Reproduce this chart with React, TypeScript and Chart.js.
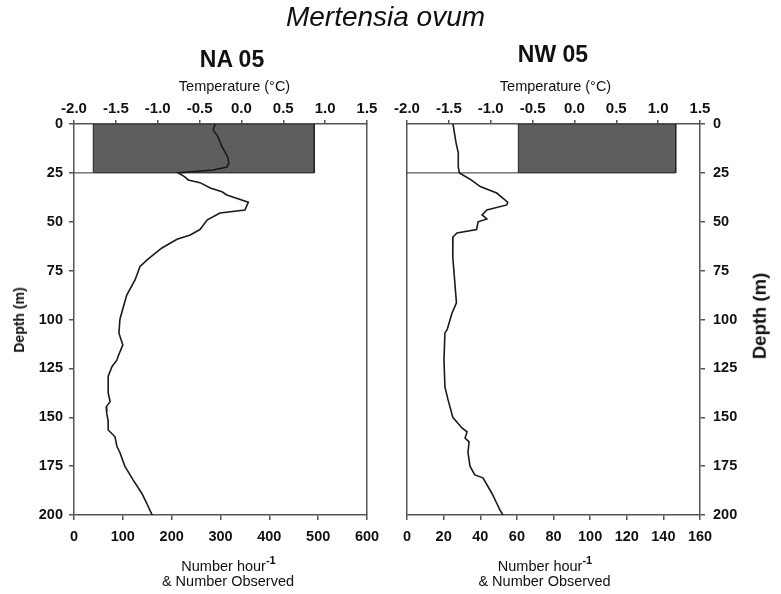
import React, { useEffect, useRef } from "react";
import { Chart, registerables } from "chart.js";

Chart.register(...registerables);

// ---------- data ----------
const depthTicks = [0, 25, 50, 75, 100, 125, 150, 175, 200];
const tempTicks = [-2.0, -1.5, -1.0, -0.5, 0.0, 0.5, 1.0, 1.5];
const naCountTicks = [0, 100, 200, 300, 400, 500, 600];
const nwCountTicks = [0, 20, 40, 60, 80, 100, 120, 140, 160];

const boxDepth = [0, 25];
const naTempRange = [-1.77, 0.87];
const nwTempRange = [-0.67, 1.21];

const naDepth = [0, 3, 6.6, 11.6, 17, 20, 22, 23.5, 25, 27, 28.6, 30, 32.7, 34.7, 36.3, 40, 44, 45.5, 49, 54, 56.8, 59, 63.4, 69.6, 73, 79.8, 87.5, 93.6, 100, 107, 113, 119, 120.7, 124, 129, 137.6, 142, 144.7, 148, 152, 156.5, 160, 165, 168, 175, 182, 189, 194, 200];
const naCount = [289, 285, 295, 303, 315, 317, 313, 285, 213, 227, 234, 258, 279, 303, 313, 357, 350, 299, 273, 258, 238, 211, 180, 149, 135, 125, 108, 101, 94, 92, 100, 90, 88, 78, 70, 70, 74, 66, 67, 70, 70, 84, 88, 94, 104, 121, 139, 149, 160];

const nwDepth = [0, 9.7, 14.8, 22, 25, 28.6, 32, 35.3, 40, 41.4, 44, 46.5, 48.6, 50, 54, 55.7, 57.8, 68, 79.8, 91.5, 96.7, 105, 107, 120.7, 134.5, 141, 150, 155.5, 157.5, 160.6, 162.6, 168, 175, 179.5, 181, 189, 194, 197.5, 200];
const nwCount = [25.1, 26.8, 28, 28, 28.6, 35, 40, 49, 55, 54.5, 43.6, 41, 43.6, 38.8, 38, 27.3, 25.1, 25, 26, 27, 24.6, 22, 20.7, 20.2, 20.7, 22.4, 25, 30, 32.8, 31.7, 33.9, 33.3, 34.4, 37, 41.5, 46.4, 49, 50.8, 52.4];

// ---------- styling ----------
const FONT = "'Liberation Sans', Arial, Helvetica, sans-serif";
const AXIS = "#555555";
const INK = "#111111";

function fixed(arr: number[]) {
  return (s: any) => {
    s.ticks = arr.map((v) => ({ value: v }));
  };
}

function countAxis(max: number, ticks: number[], height: number) {
  return {
    type: "linear",
    position: "bottom",
    min: 0,
    max,
    afterBuildTicks: fixed(ticks),
    afterFit: (s: any) => {
      s.height = height;
    },
    ticks: { color: INK, padding: 8, font: { family: FONT, size: 14.5, weight: "bold" } },
    grid: { display: true, drawOnChartArea: false, drawTicks: true, tickLength: 5, color: AXIS, lineWidth: 1.5 },
    border: { display: true, color: AXIS, width: 1.5 },
  };
}

function tempAxis(height: number) {
  return {
    type: "linear",
    position: "top",
    min: -2,
    max: 1.5,
    afterBuildTicks: fixed(tempTicks),
    afterFit: (s: any) => {
      s.height = height;
    },
    ticks: {
      color: INK,
      padding: 2.5,
      font: { family: FONT, size: 15, weight: "bold" },
      callback: (v: any) => Number(v).toFixed(1),
    },
    grid: { display: true, drawOnChartArea: false, drawTicks: true, tickLength: 4, color: AXIS, lineWidth: 1.5 },
    border: { display: true, color: AXIS, width: 1.5 },
  };
}

function depthAxis(position: string, width: number, showTicks: boolean, pad: number) {
  return {
    type: "linear",
    position,
    reverse: true,
    min: 0,
    max: 200,
    afterBuildTicks: fixed(depthTicks),
    afterFit: (s: any) => {
      s.width = width;
    },
    ticks: { display: showTicks, color: INK, padding: pad, font: { family: FONT, size: 14.5, weight: "bold" } },
    grid: { display: showTicks, drawOnChartArea: false, drawTicks: showTicks, tickLength: 5, color: AXIS, lineWidth: 1.5 },
    border: { display: true, color: AXIS, width: 1.5 },
  };
}

function makeDatasets(depth: number[], count: number[], range: number[]) {
  const [d0, d1] = boxDepth;
  const [t0, t1] = range;
  return [
    {
      label: "profile",
      data: count.map((c, i) => ({ x: c, y: depth[i] })),
      xAxisID: "x",
      yAxisID: "y",
      showLine: true,
      borderColor: "#1a1a1a",
      borderWidth: 1.6,
      pointRadius: 0,
      fill: false,
      tension: 0,
      order: 0,
    },
    {
      label: "edge",
      data: [
        { x: -2, y: d1 },
        { x: t0, y: d1 },
      ],
      xAxisID: "xt",
      yAxisID: "y",
      showLine: true,
      borderColor: "#333333",
      borderWidth: 1,
      pointRadius: 0,
      fill: false,
      order: 1,
    },
    {
      label: "temperature range",
      data: [
        { x: t0, y: d0 },
        { x: t1, y: d0 },
        { x: t1, y: d1 },
        { x: t0, y: d1 },
        { x: t0, y: d0 },
      ],
      xAxisID: "xt",
      yAxisID: "y",
      showLine: true,
      borderColor: "#222222",
      borderWidth: 1,
      backgroundColor: "#5e5e5e",
      pointRadius: 0,
      fill: "shape",
      order: 2,
    },
  ];
}

function baseOptions(scales: any) {
  return {
    responsive: false,
    animation: false,
    devicePixelRatio: 1,
    layout: { padding: 0 },
    plugins: { legend: { display: false }, tooltip: { enabled: false }, title: { display: false } },
    scales,
  };
}

function Label(props: {
  x: number;
  y: number;
  size: number;
  bold?: boolean;
  italic?: boolean;
  rotate?: boolean;
  children: any;
}) {
  const { x, y, size, bold, italic, rotate, children } = props;
  return (
    <div
      style={{
        position: "absolute",
        left: x,
        top: y,
        transform: `translate(-50%, -50%)${rotate ? " rotate(-90deg)" : ""}`,
        fontFamily: FONT,
        fontSize: size,
        fontWeight: bold ? "bold" : "normal",
        fontStyle: italic ? "italic" : "normal",
        lineHeight: 1,
        whiteSpace: "nowrap",
        color: INK,
      }}
    >
      {children}
    </div>
  );
}

export default function App() {
  const leftRef = useRef<HTMLCanvasElement>(null);
  const rightRef = useRef<HTMLCanvasElement>(null);

  useEffect(() => {
    const left = new Chart(leftRef.current as HTMLCanvasElement, {
      type: "scatter",
      data: { datasets: makeDatasets(naDepth, naCount, naTempRange) as any },
      options: baseOptions({
        x: countAxis(600, naCountTicks, 79),
        xt: tempAxis(124),
        y: depthAxis("left", 74, true, 6),
        yr: depthAxis("right", 23, false, 0),
      }) as any,
    });
    const right = new Chart(rightRef.current as HTMLCanvasElement, {
      type: "scatter",
      data: { datasets: makeDatasets(nwDepth, nwCount, nwTempRange) as any },
      options: baseOptions({
        x: countAxis(160, nwCountTicks, 79),
        xt: tempAxis(124),
        yl: depthAxis("left", 17, false, 0),
        y: depthAxis("right", 81, true, 8),
      }) as any,
    });
    return () => {
      left.destroy();
      right.destroy();
    };
  }, []);

  const sup = { fontSize: 11, fontWeight: "bold" as const, position: "relative" as const, top: -7 };

  return (
    <div
      style={{
        position: "absolute",
        left: 0,
        top: 0,
        width: 781,
        height: 594,
        background: "#ffffff",
        overflow: "hidden",
      }}
    >
      <canvas ref={leftRef} width={390} height={594} style={{ position: "absolute", left: 0, top: 0 }} />
      <canvas ref={rightRef} width={391} height={594} style={{ position: "absolute", left: 390, top: 0 }} />

      <Label x={385.5} y={17} size={28} italic>
        Mertensia ovum
      </Label>
      <Label x={232} y={58.5} size={23} bold>
        NA 05
      </Label>
      <Label x={553} y={53.5} size={23} bold>
        NW 05
      </Label>

      <Label x={234.5} y={85.5} size={14.5}>
        Temperature (°C)
      </Label>
      <Label x={555.5} y={85.5} size={14.5}>
        Temperature (°C)
      </Label>

      <Label x={19} y={319.5} size={14} bold rotate>
        Depth (m)
      </Label>
      <Label x={760} y={316} size={18.5} bold rotate>
        Depth (m)
      </Label>

      <Label x={228.5} y={566} size={14.5}>
        <span>
          Number hour<span style={sup}>-1</span>
        </span>
      </Label>
      <Label x={228} y={581} size={14.5}>
        &amp; Number Observed
      </Label>
      <Label x={545} y={566} size={14.5}>
        <span>
          Number hour<span style={sup}>-1</span>
        </span>
      </Label>
      <Label x={544.5} y={581} size={14.5}>
        &amp; Number Observed
      </Label>
    </div>
  );
}
